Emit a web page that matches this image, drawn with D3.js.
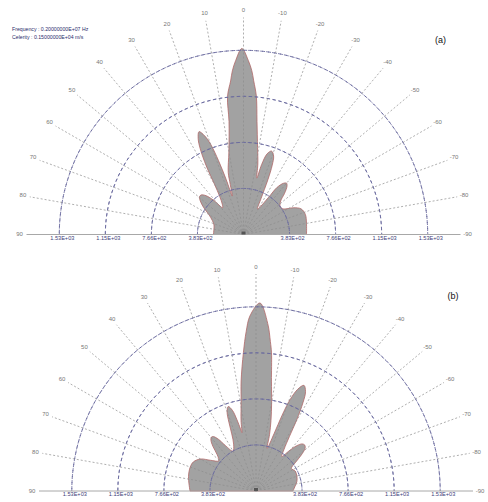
<!DOCTYPE html>
<html>
<head>
<meta charset="utf-8">
<script src="https://cdn.jsdelivr.net/npm/d3@7"></script>
<style>
  body { margin: 0; background: #fff; }
  svg text { font-family: "Liberation Sans", Arial, sans-serif; }
</style>
</head>
<body>
<svg id="chart" width="488" height="502"></svg>
<script>
// grid ticks
var angleTicks = [90, 80, 70, 60, 50, 40, 30, 20, 10, 0, -10, -20, -30, -40, -50, -60, -70, -80, -90];
var ringValues = [383, 766, 1149, 1532];
var ringLabels = ["3.83E+02", "7.66E+02", "1.15E+03", "1.53E+03"];

// beam pattern (a) : angle in degrees, range in m
var anglesA = [90, 80, 72, 66, 60, 56, 52, 49.5, 47, 44, 41, 38, 35, 32, 30, 28.5, 26.8, 25.3, 23.4, 21.5, 20,
  18.7, 17.5, 16.3, 14.8, 13.8, 10, 7.3, 6.6, 4.8, 3.9, 2.6, 0.5, -1.6, -2.9, -3.8, -5.3, -6.8, -9.2, -11.5,
  -13.3, -14.5, -16.3, -18.6, -21, -22.5, -24, -26, -29, -34, -35.5, -38, -40, -42, -45, -48, -53, -57,
  -62, -66, -72, -80, -90];
var rangeA = [250, 250, 258, 283, 333, 399, 457, 482, 482, 449, 374, 283, 308, 374, 482, 649, 798, 882, 932, 882, 798,
  649, 482, 333, 432, 532, 699, 948, 1156, 1281, 1364, 1447, 1547, 1447, 1364, 1281, 1156, 948, 732, 599,
  482, 599, 699, 732, 699, 624, 499, 333, 241, 374, 482, 541, 557, 541, 482, 416, 383, 391,
  474, 524, 541, 532, 524];

// beam pattern (b)
var anglesB = [90, 78, 70, 65, 60, 56, 51, 47, 44, 41.5, 39.5, 38, 36, 34, 30, 25.5, 23, 21.5, 20.1, 18.2, 16.3,
  15, 14, 13.6, 12, 9.5, 7.7, 5.2, 3.5, 2, -1.2, -4, -5.5, -6.4, -8, -10, -12, -13.5, -14.6, -17.5, -19,
  -20.5, -22.3, -24.4, -26.5, -28, -29.8, -31.5, -34, -36.8, -39.5, -42, -44.5, -46.8, -49, -51.5, -54,
  -57.5, -63, -70, -77, -84, -90];
var rangeB = [549, 574, 582, 574, 532, 457, 399, 441, 516, 566, 582, 574, 532, 457, 383, 432, 516, 615, 699, 740, 699,
  615, 532, 499, 599, 749, 923, 1156, 1331, 1456, 1564, 1397, 1248, 1156, 923, 749, 599, 482, 366, 499, 665,
  815, 915, 965, 923, 832, 682, 532, 416, 358, 432, 507, 549, 557, 541, 482, 408,
  349, 366, 362, 349, 324, 308];

var rMax = 184.2;
var r = d3.scaleLinear().domain([0, 1532]).range([0, rMax]);
var rad = function(deg) { return -deg * Math.PI / 180; };

var svg = d3.select("#chart");

function drawPolar(cx, cy, angles, ranges, tag) {
  var g = svg.append("g").attr("transform", "translate(" + cx + "," + cy + ")");

  // pattern
  var pts = angles.map(function(a, i) { return [rad(a), r(ranges[i])]; });
  var line = d3.lineRadial().curve(d3.curveCatmullRom.alpha(0.5));
  g.append("path")
    .attr("d", line(pts) + "L0,0Z")
    .attr("fill", "#a2a2a2")
    .attr("stroke", "#b06868")
    .attr("stroke-width", 0.8);

  // rings
  var arc = d3.arc().startAngle(-Math.PI / 2).endAngle(Math.PI / 2);
  g.selectAll(".ring").data(ringValues).enter().append("path")
    .attr("d", function(d) { return arc({innerRadius: r(d), outerRadius: r(d)}); })
    .attr("fill", "none")
    .attr("stroke", "#6a6a9e")
    .attr("stroke-width", 0.9)
    .attr("stroke-dasharray", "3,3");

  // angle spokes
  var spokeLen = 217;
  g.selectAll(".spoke").data(angleTicks.filter(function(d) { return Math.abs(d) < 90; })).enter().append("line")
    .attr("x1", 0).attr("y1", 0)
    .attr("x2", function(d) { return -spokeLen * Math.sin(d * Math.PI / 180); })
    .attr("y2", function(d) { return -spokeLen * Math.cos(d * Math.PI / 180); })
    .attr("stroke", "#8c8c8c")
    .attr("stroke-width", 0.7)
    .attr("stroke-dasharray", "2,2");

  // baseline
  g.append("line")
    .attr("x1", -spokeLen).attr("x2", spokeLen).attr("y1", 0).attr("y2", 0)
    .attr("stroke", "#a8a8a8").attr("stroke-width", 1);

  // small centre mark
  g.append("rect").attr("x", -2).attr("y", -3).attr("width", 4).attr("height", 3).attr("fill", "#555");

  // angle labels
  g.selectAll(".alab").data(angleTicks).enter().append("text")
    .attr("x", function(d) { return -224 * Math.sin(d * Math.PI / 180); })
    .attr("y", function(d) { return -224 * Math.cos(d * Math.PI / 180); })
    .attr("text-anchor", "middle")
    .attr("dominant-baseline", "middle")
    .attr("font-size", 6)
    .attr("fill", "#777")
    .text(function(d) { return d; });

  // ring labels, both sides
  ringValues.forEach(function(v, i) {
    [-1, 1].forEach(function(s) {
      g.append("text")
        .attr("x", s * r(v) + 3)
        .attr("y", 1)
        .attr("text-anchor", "middle")
        .attr("dominant-baseline", "hanging")
        .attr("font-size", 5.6)
        .attr("fill", "#3c3c78")
        .text(ringLabels[i]);
    });
  });

  svg.append("text")
    .attr("x", cx + 197).attr("y", cy - 194)
    .attr("text-anchor", "middle")
    .attr("dominant-baseline", "middle")
    .attr("font-size", 9)
    .attr("fill", "#111")
    .text(tag);
}

drawPolar(243.5, 234.5, anglesA, rangeA, "(a)");
drawPolar(256, 491, anglesB, rangeB, "(b)");

svg.append("text").attr("x", 12).attr("y", 30).attr("font-size", 5.2).attr("fill", "#2c2c6c")
  .attr("dominant-baseline", "middle").text("Frequency : 0.20000000E+07 Hz");
svg.append("text").attr("x", 12).attr("y", 38).attr("font-size", 5.2).attr("fill", "#2c2c6c")
  .attr("dominant-baseline", "middle").text("Celerity : 0.15000000E+04 m/s");
</script>
</body>
</html>
